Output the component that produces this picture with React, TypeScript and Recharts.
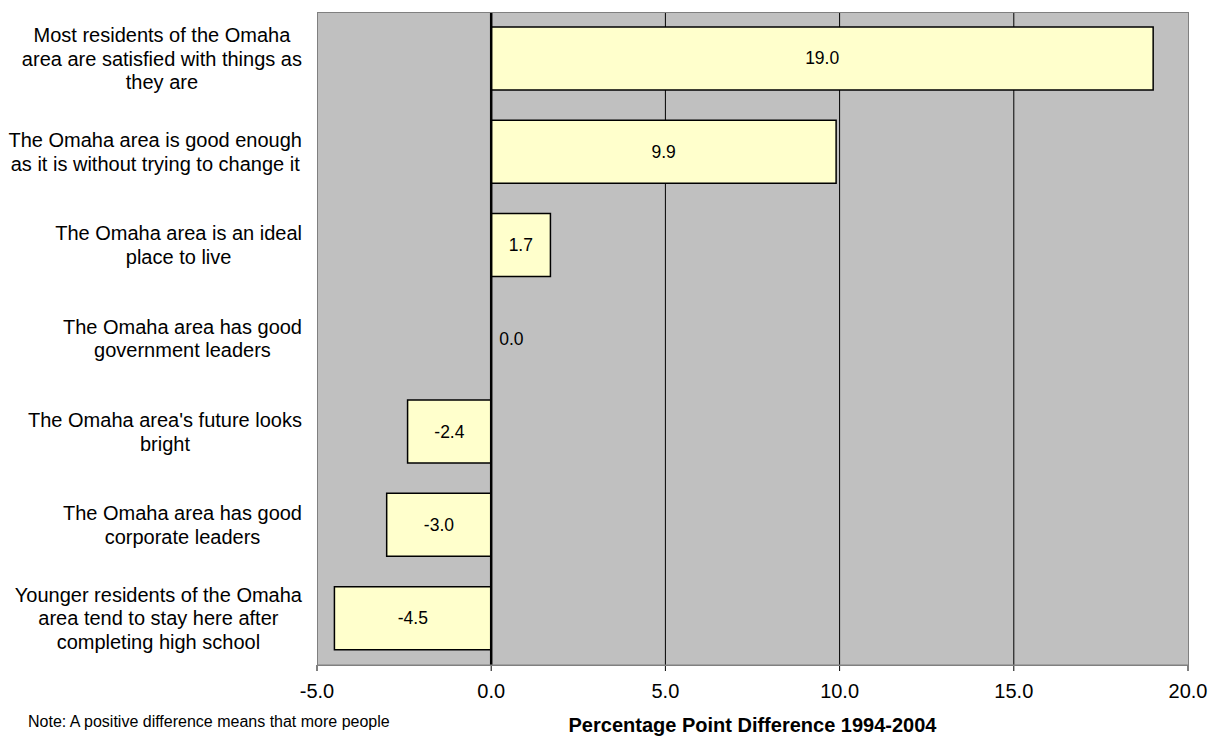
import React from 'react';
import { BarChart, Bar, XAxis, YAxis, CartesianGrid, ReferenceLine, ReferenceDot, LabelList } from 'recharts';

const categories = [
  'Most residents of the Omaha|area are satisfied with things as|they are',
  'The Omaha area is good enough|as it is without trying to change it',
  'The Omaha area is an ideal|place to live',
  'The Omaha area has good|government leaders',
  "The Omaha area's future looks|bright",
  'The Omaha area has good|corporate leaders',
  'Younger residents of the Omaha|area tend to stay here after|completing high school',
];
const values = [19.0, 9.9, 1.7, 0.0, -2.4, -3.0, -4.5];
const xTicks = [-5, 0, 5, 10, 15, 20];
const gridValues = [5, 10, 15];

const data = categories.map((name, i) => ({ name, value: values[i] }));
const zeroItems = data.filter((d) => d.value === 0);

const FONT = '"Liberation Sans", Arial, sans-serif';

let ctx: CanvasRenderingContext2D | null = null;
function measure(text: string, font: string): number {
  if (!ctx) ctx = document.createElement('canvas').getContext('2d');
  if (!ctx) return text.length * 9;
  ctx.font = font;
  return ctx.measureText(text).width;
}

const CatTick = (props: any) => {
  const { y, payload } = props;
  const lines: string[] = String(payload.value).split('|');
  const fsize = 20;
  const lh = 23.5;
  const maxW = Math.max(...lines.map((l) => measure(l, `${fsize}px "Liberation Sans", Arial`)));
  const cx = 302 - maxW / 2;
  const first = y - ((lines.length - 1) * lh) / 2 + 7;
  return (
    <g>
      {lines.map((l, i) => (
        <text key={i} x={cx} y={first + i * lh} textAnchor="middle" fontSize={fsize} fontFamily={FONT} fill="#000">
          {l}
        </text>
      ))}
    </g>
  );
};

const ValueLabel = (props: any) => {
  const { x, y, width, height, value } = props;
  const v = Number(value);
  if (v === 0) return null;
  return (
    <text x={x + width / 2} y={y + height / 2 + 6} textAnchor="middle" fontSize={17.5} fontFamily={FONT} fill="#000">
      {v.toFixed(1)}
    </text>
  );
};

export default function App() {
  return (
    <div style={{ position: 'absolute', left: 0, top: 0, width: 1213, height: 736, background: '#fff', overflow: 'hidden' }}>
      <BarChart
        width={1213}
        height={736}
        data={data}
        layout="vertical"
        margin={{ top: 12, right: 25, bottom: 0, left: 0 }}
        barCategoryGap="16%"
      >
        <CartesianGrid
          fill="#C0C0C0"
          fillOpacity={1}
          horizontal={false}
          vertical={true}
          stroke="#000"
          strokeWidth={1}
          {...({ verticalValues: gridValues } as any)}
        />
        <XAxis
          type="number"
          domain={[-5, 20]}
          ticks={xTicks}
          tickFormatter={(v: number) => v.toFixed(1)}
          height={71}
          tickSize={6}
          tickMargin={13}
          stroke="#808080"
          tickLine={{ stroke: '#000' }}
          tick={{ fontSize: 20, fontFamily: FONT, fill: '#000' }}
          allowDataOverflow
        />
        <YAxis type="category" dataKey="name" width={317} axisLine={false} tickLine={false} tick={<CatTick />} interval={0} />
        <Bar dataKey="value" fill="#FFFFCC" stroke="#000" strokeWidth={1.5} isAnimationActive={false}>
          <LabelList dataKey="value" content={<ValueLabel />} />
        </Bar>
        <ReferenceLine x={0} stroke="#000" strokeWidth={2.5} />
        {zeroItems.map((d) => (
          <ReferenceDot
            key={d.name}
            x={d.value}
            y={d.name}
            r={1}
            fill="none"
            stroke="none"
            label={{ value: d.value.toFixed(1), position: 'right', offset: 7, fontSize: 17.5, fontFamily: FONT, fill: '#000' }}
          />
        ))}
      </BarChart>
      <div
        style={{
          position: 'absolute',
          left: 317,
          top: 12,
          width: 870,
          height: 652,
          border: '1px solid #808080',
          pointerEvents: 'none',
        }}
      />
      <div
        style={{
          position: 'absolute',
          left: 317,
          width: 871,
          top: 714,
          textAlign: 'center',
          fontFamily: FONT,
          fontWeight: 'bold',
          fontSize: 20,
          lineHeight: '23px',
          color: '#000',
          whiteSpace: 'nowrap',
        }}
      >
        Percentage Point Difference 1994-2004
      </div>
      <div
        style={{
          position: 'absolute',
          left: 28,
          top: 712,
          fontFamily: FONT,
          fontSize: 16,
          lineHeight: '19px',
          color: '#000',
          whiteSpace: 'nowrap',
        }}
      >
        Note: A positive difference means that more people
      </div>
    </div>
  );
}
